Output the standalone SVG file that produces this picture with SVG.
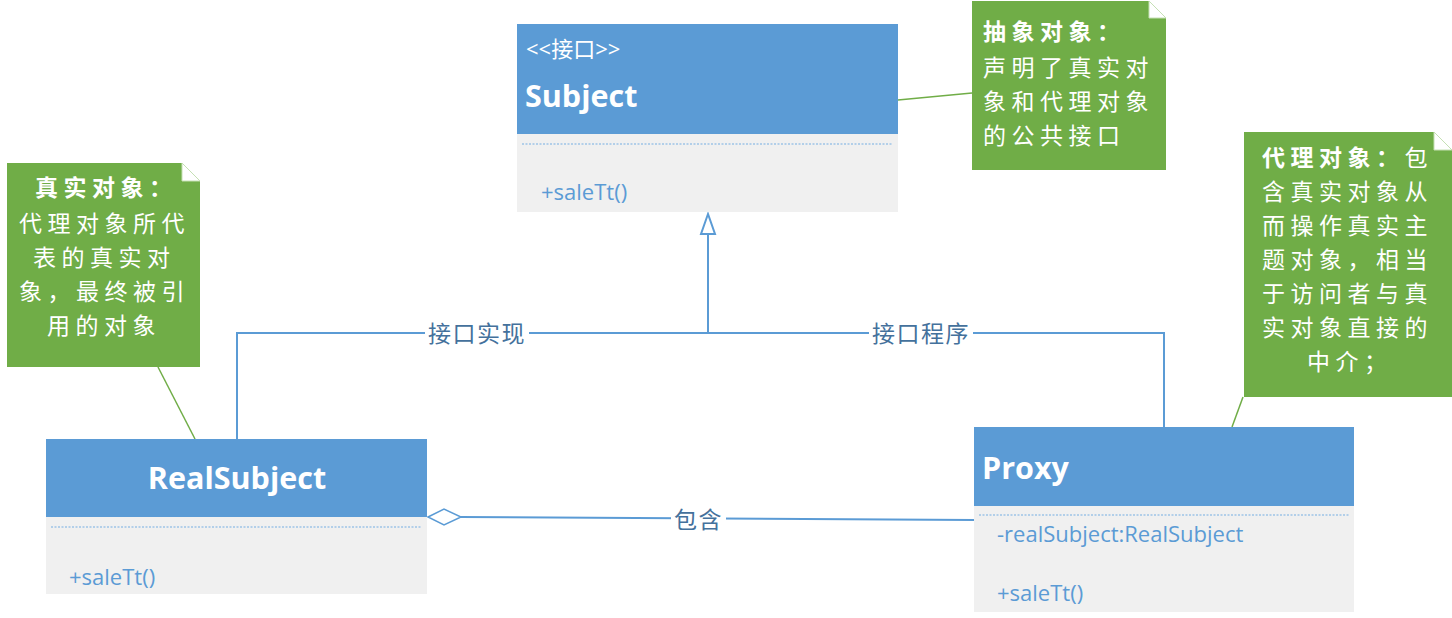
<svg xmlns="http://www.w3.org/2000/svg" width="1452" height="618" viewBox="0 0 1452 618">
<style>
.hdr{fill:#5b9bd5}
.body{fill:#f0f0f0}
.sep{stroke:#9dc3e6;stroke-width:1.5;stroke-dasharray:2 1.5;fill:none}
.ttl{font-family:"Open Sans","Noto Sans",sans-serif;font-weight:bold;font-size:30.5px;fill:#ffffff}
.stereo{font-family:"Open Sans","Noto Sans CJK SC",sans-serif;font-size:22px;fill:#ffffff}
.mem{font-family:"Open Sans","Noto Sans",sans-serif;font-size:22px;fill:#5b9bd5}
.note{fill:#70ad47}
.fold{fill:#ffffff;stroke:#c5e0b4;stroke-width:1}
.nt{font-family:"Noto Sans CJK SC",sans-serif;font-size:23px;letter-spacing:5.5px;fill:#ffffff}
.nb{font-weight:bold}
.conn{stroke:#5b9bd5;stroke-width:2;fill:none}
.green{stroke:#70ad47;stroke-width:1.5;fill:none}
.lbl{font-family:"Noto Sans CJK SC",sans-serif;font-size:23px;letter-spacing:1.5px;fill:#44719c}
</style>
<rect width="1452" height="618" fill="#ffffff"/>
<g id="connectors">
<line class="green" x1="898" y1="100" x2="972" y2="93"/>
<line class="green" x1="158" y1="367" x2="195" y2="439"/>
<line class="green" x1="1243" y1="397" x2="1232" y2="427"/>
<polyline class="conn" points="237,439 237,333 1164,333 1164,427"/>
<line class="conn" x1="708" y1="333" x2="708" y2="234"/>
<polygon points="708,214 701,234 715,234" fill="#ffffff" stroke="#5b9bd5" stroke-width="2"/>
<line class="conn" x1="461" y1="517" x2="974" y2="520"/>
<polygon points="428,517 444,509 461,517 444,525" fill="#ffffff" stroke="#5b9bd5" stroke-width="1.5"/>
<rect x="425" y="320" width="104" height="26" fill="#ffffff"/>
<text class="lbl" x="428" y="342">接口实现</text>
<rect x="869" y="320" width="104" height="26" fill="#ffffff"/>
<text class="lbl" x="872" y="342">接口程序</text>
<rect x="671" y="506" width="55" height="26" fill="#ffffff"/>
<text class="lbl" x="674" y="528">包含</text>
</g>
<g id="subject">
<rect class="hdr" x="517" y="24" width="381" height="110"/>
<rect class="body" x="517" y="134" width="381" height="78"/>
<line class="sep" x1="522" y1="144" x2="893" y2="144"/>
<text class="stereo" x="526" y="57">&lt;&lt;接口&gt;&gt;</text>
<text class="ttl" x="525" y="107">Subject</text>
<text class="mem" x="541" y="200">+saleTt()</text>
</g>
<g id="realsubject">
<rect class="hdr" x="46" y="439" width="381" height="78"/>
<rect class="body" x="46" y="517" width="381" height="77"/>
<line class="sep" x1="51" y1="527" x2="422" y2="527"/>
<text class="ttl" x="237" y="489" text-anchor="middle">RealSubject</text>
<text class="mem" x="69" y="585">+saleTt()</text>
</g>
<g id="proxy">
<rect class="hdr" x="974" y="427" width="380" height="79"/>
<rect class="body" x="974" y="506" width="380" height="106"/>
<line class="sep" x1="979" y1="515" x2="1349" y2="515"/>
<text class="ttl" x="982" y="479">Proxy</text>
<text class="mem" x="997" y="542">-realSubject:RealSubject</text>
<text class="mem" x="997" y="601">+saleTt()</text>
</g>
<g id="note-abstract">
<path class="note" d="M972,1 H1149 L1166,18 V170 H972 Z"/>
<path class="fold" d="M1149,1 L1166,18 H1149 Z"/>
<text class="nt nb" x="983" y="40">抽象对象：</text>
<text class="nt" x="983" y="76">声明了真实对</text>
<text class="nt" x="983" y="110">象和代理对象</text>
<text class="nt" x="983" y="144">的公共接口</text>
</g>
<g id="note-real">
<path class="note" d="M7,163 H182 L200,181 V367 H7 Z"/>
<path class="fold" d="M182,163 L200,181 H182 Z"/>
<text class="nt nb" x="35" y="196">真实对象：</text>
<text class="nt" x="19" y="232">代理对象所代</text>
<text class="nt" x="33" y="266">表的真实对</text>
<text class="nt" x="19" y="300">象，最终被引</text>
<text class="nt" x="47" y="334">用的对象</text>
</g>
<g id="note-proxy">
<path class="note" d="M1244,132 H1434 L1452,150 V397 H1244 Z"/>
<path class="fold" d="M1434,132 L1452,150 H1434 Z"/>
<text class="nt" x="1262" y="166"><tspan class="nb">代理对象：</tspan>包</text>
<text class="nt" x="1262" y="200">含真实对象从</text>
<text class="nt" x="1262" y="234">而操作真实主</text>
<text class="nt" x="1262" y="268">题对象，相当</text>
<text class="nt" x="1262" y="302">于访问者与真</text>
<text class="nt" x="1262" y="336">实对象直接的</text>
<text class="nt" x="1307" y="370">中介；</text>
</g>
</svg>
